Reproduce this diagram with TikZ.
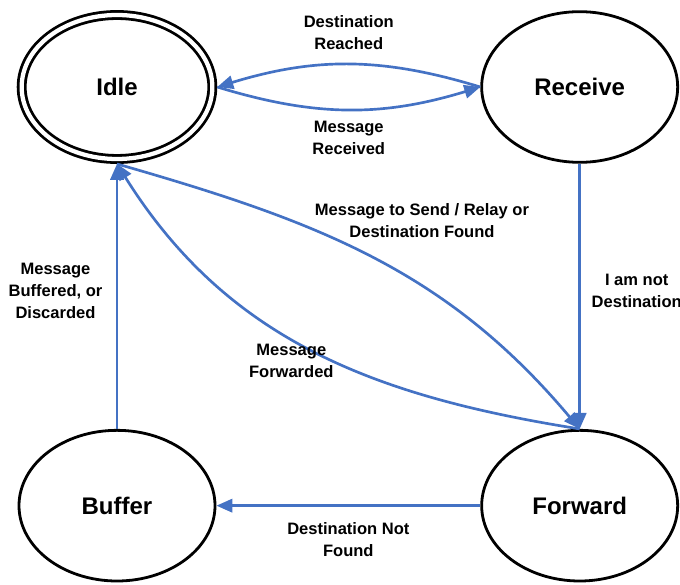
\documentclass[tikz,border=0pt]{standalone}
\usepackage{fontspec}
\setmainfont{Liberation Sans}
\usetikzlibrary {arrows.meta}
\usetikzlibrary {shapes.geometric}
\definecolor{flowblue}{RGB}{68,114,196}

\begin{document}
\begin{tikzpicture} [
        x=0.75pt, y=0.75pt,
        state/.style={draw=black, ellipse, line width=2.1pt, minimum width=147pt, minimum height=113pt, inner sep=0pt, font=\fontsize{18}{22}\selectfont\bfseries},
        home/.style={state, double, double distance=3.2pt, minimum width=143pt, minimum height=108pt, outer sep=3.7pt},
        trans/.style={draw=flowblue, line width=2pt, -{Triangle[length=12pt,width=10pt]}},
        note/.style={align=center, inner sep=2pt, font=\fontsize{12.4}{16.5}\selectfont\bfseries},
        node distance=347pt ]
    \useasboundingbox (0,0) rectangle (680,-584);
    \node[home] (q0) at (117,-87) {Idle};
    \node[state, right of=q0] (q1) {Receive};
    \node[state, below of=q1, node distance=314pt] (q2) {Forward};
    \node[state, below of=q0, node distance=314pt] (q3) {Buffer};
    \draw (q1.west) edge[trans, out=163, in=17] node[note, above=8pt] {Destination\\Reached} (q0.east);
    \draw (q0.east) edge[trans, out=-17, in=197] node[note, below=6pt] {Message\\Received} (q1.west);
    \draw (q1) edge[trans] node[note, pos=.48, right=6pt] {I am not\\Destination} (q2);
    \draw (q0.south) edge[trans, out=-16, in=130] node[note, pos=.6, above=31pt, xshift=4pt] {Message to Send / Relay or\\Destination Found} (q2.north);
    \draw (q2.north) edge[trans, out=171, in=-58] node[note, pos=.5, xshift=-16pt, yshift=-8pt] {Message\\Forwarded} (q0.south);
    \draw (q3) edge[trans] node[note, pos=.52, left=8pt] {Message\\Buffered, or\\Discarded} (q0);
    \draw (q2) edge[trans] node[note, below=10pt] {Destination Not\\Found} (q3);
\end{tikzpicture}
\end{document}
